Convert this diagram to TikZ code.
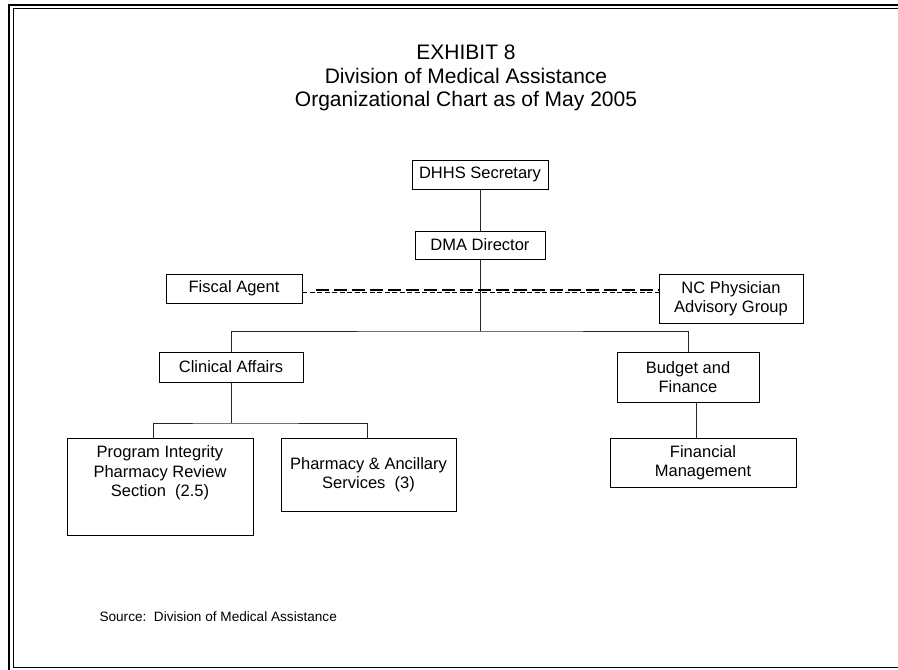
\documentclass[tikz,border=0pt]{standalone}
\usepackage{fontspec}
\setmainfont{Liberation Sans}
\usetikzlibrary{calc}

\begin{document}
\begin{tikzpicture}[x=1pt, y=-1pt,
  box/.style={draw, line width=.9pt, inner sep=0pt, align=center, font=\fontsize{16.5}{19.5}\selectfont},
  link/.style={draw, line width=.9pt, color=black!85}]
\useasboundingbox (0,0) rectangle (898,670);
\draw[line width=2pt] (9,4.5) rectangle (915,676);
\draw[line width=1pt] (13,8.5) rectangle (910,667);

\node[align=center, font=\fontsize{21}{23.5}\selectfont] (title) at (466,78)
  {EXHIBIT 8\\Division of Medical Assistance\\Organizational Chart as of May 2005};

\node[box, minimum width=136, minimum height=29] (sec) at (480,174.5) {DHHS Secretary};
\node[box, minimum width=130, minimum height=28] (dir) at (480,245) {DMA Director};
\node[box, minimum width=136, minimum height=29] (fa)  at (234,288.5) {Fiscal Agent};
\node[box, minimum width=144, minimum height=49] (nc)  at (731,298.5) {NC Physician\\Advisory Group};
\node[box, minimum width=144, minimum height=30] (ca)  at (231,367) {Clinical Affairs};
\node[box, minimum width=142, minimum height=50] (bf)  at (688,377) {Budget and\\Finance};
\node[box, minimum width=186, minimum height=97, text depth=30pt] (pi) at (160,486.5) {Program Integrity\\Pharmacy Review\\Section\ \ (2.5)};
\node[box, minimum width=175, minimum height=73] (pa)  at (368.5,474.5) {Pharmacy \& Ancillary\\Services\ \ (3)};
\node[box, minimum width=186, minimum height=49] (fm)  at (703,462.5) {Financial\\Management};

\coordinate (bus) at (480,331);
\coordinate (sub) at (231,423);

\draw[link] (sec) -- (dir);
\draw[link] (dir) -- (bus);
\draw[link] (ca.north) |- (bus) -| (bf.north);
\draw[link] (ca) -- (sub);
\draw[link] ([xshift=-7pt]pi.north) |- (sub) -| ([xshift=-1.5pt]pa.north);
\draw[link] ([xshift=8pt]bf.south) -- ([xshift=-7pt]fm.north);

\draw[line width=.7pt, dash pattern=on 5pt off 2.5pt] ([yshift=-4pt]fa.east) -- ([yshift=6pt]nc.west);
\draw[line width=1.3pt, dash pattern=on 13pt off 5pt] ($([yshift=-1.5pt]fa.east)+(14,0)$) -- ([yshift=8.5pt]nc.west);

\node[anchor=west, font=\fontsize{13.6}{16}\selectfont] (src) at (96,617) {Source:\ \ Division of Medical Assistance};
\end{tikzpicture}
\end{document}
